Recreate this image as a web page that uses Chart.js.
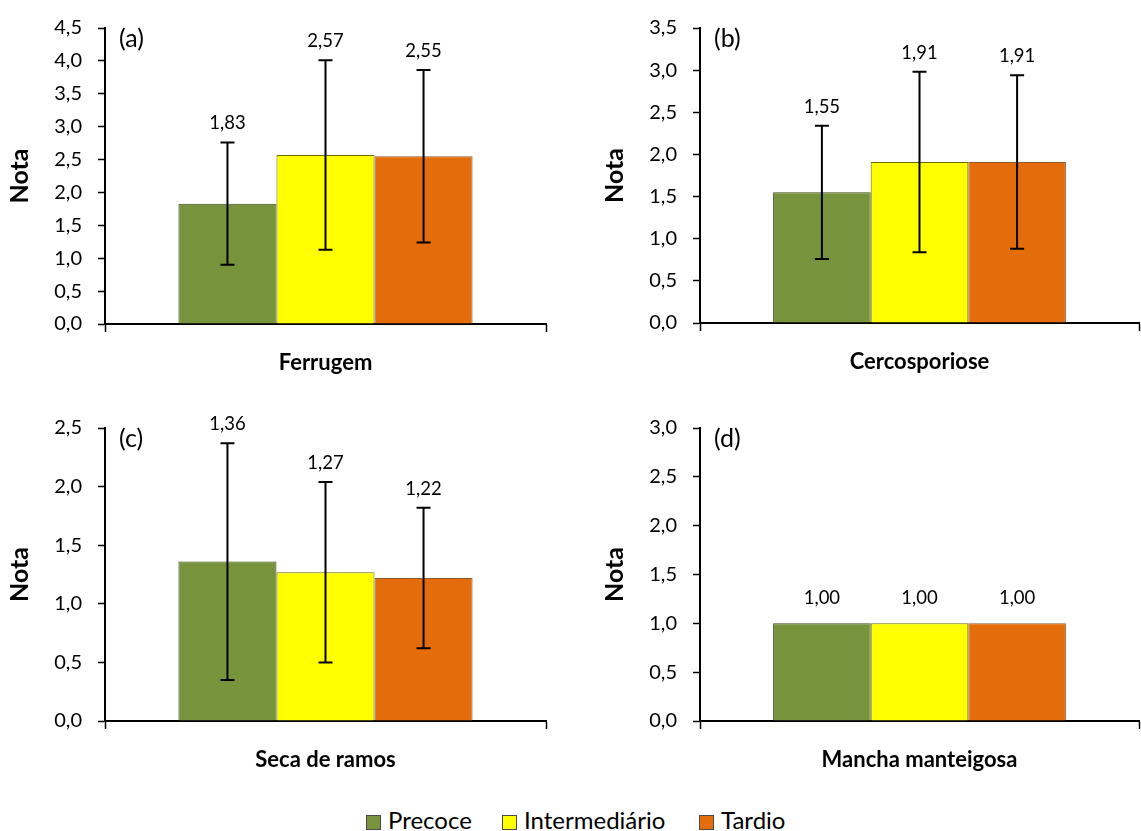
<!DOCTYPE html>
<html>
<head>
<meta charset="utf-8">
<script src="https://cdn.jsdelivr.net/npm/chart.js@4.4.1/dist/chart.umd.min.js"></script>
<style>
  html, body { margin: 0; padding: 0; background: #fff; }
  #wrap { position: relative; width: 1141px; height: 831px; overflow: hidden; }
  #wrap canvas { position: absolute; }
  #legend { position: absolute; left: 0; top: 806px; width: 1141px; height: 28px;
            font-family: Lato, "Open Sans", sans-serif; font-size: 24px; color: #000; line-height: 28px; }
  #legend .item { position: absolute; top: 0; display: flex; align-items: center; white-space: nowrap; }
  #legend .sw { width: 13px; height: 13px; border: 1px solid #4a4a4a; margin-right: 7px; margin-top: 4px; }
</style>
</head>
<body>
<div id="wrap">
  <canvas id="pa"></canvas>
  <canvas id="pb"></canvas>
  <canvas id="pc"></canvas>
  <canvas id="pd"></canvas>
  <div id="legend"></div>
</div>
<script>
// Maturation groups (series)
const seriesNames = ['Precoce', 'Intermediário', 'Tardio'];
const seriesColors = ['#77933C', '#FFFF00', '#E46C0A'];
const seriesBorders = ['#3B4A1E', '#6B6B00', '#8A5A30'];

// Diseases, one per panel
const diseases = ['Ferrugem', 'Cercosporiose', 'Seca de ramos', 'Mancha manteigosa'];
const panelTags = ['(a)', '(b)', '(c)', '(d)'];
const yMax = [4.5, 3.5, 2.5, 3.0];
const yStep = 0.5;

// Mean scores per disease
const precoce       = [1.83, 1.55, 1.36, 1.00];
const intermediario = [2.57, 1.91, 1.27, 1.00];
const tardio        = [2.55, 1.91, 1.22, 1.00];

// Standard deviations per disease
const sdPrecoce       = [0.93, 0.79, 1.01, 0];
const sdIntermediario = [1.44, 1.07, 0.77, 0];
const sdTardio        = [1.31, 1.03, 0.60, 0];

const means = [precoce, intermediario, tardio];
const sds = [sdPrecoce, sdIntermediario, sdTardio];

// Canvas placement and plot-area box of each panel
const panels = [
  { id: 'pa', left: 0,   top: 0,   width: 570, height: 390, area: { l: 105, t: 22, r: 546, b: 324 }, yTitleX: 20, labelGap: 19 },
  { id: 'pb', left: 570, top: 0,   width: 571, height: 390, area: { l: 130, t: 22, r: 569, b: 323 }, yTitleX: 45, labelGap: 19 },
  { id: 'pc', left: 0,   top: 400, width: 570, height: 380, area: { l: 105, t: 18, r: 546, b: 321 }, yTitleX: 20, labelGap: 19 },
  { id: 'pd', left: 570, top: 400, width: 571, height: 380, area: { l: 130, t: 19, r: 569, b: 321 }, yTitleX: 45, labelGap: 25 }
];
// Legend swatch positions
const legendX = [366, 502, 699];

const FONT = 'Lato, "Open Sans", sans-serif';
const comma = (v, d) => v.toFixed(d).replace('.', ',');

// Error bars, value labels and the panel tag
const overlayPlugin = {
  id: 'overlay',
  afterDatasetsDraw(chart, args, opts) {
    const { ctx, chartArea } = chart;
    const y = chart.scales.y;
    ctx.save();
    chart.data.datasets.forEach((ds, i) => {
      const meta = chart.getDatasetMeta(i);
      meta.data.forEach((bar, j) => {
        const v = ds.data[j];
        const e = ds.errors[j];
        const x = bar.x;
        const yTop = y.getPixelForValue(v + e);
        if (e > 0) {
          const yBot = y.getPixelForValue(v - e);
          ctx.strokeStyle = '#000';
          ctx.lineWidth = 2;
          ctx.beginPath();
          ctx.moveTo(x, yTop); ctx.lineTo(x, yBot);
          ctx.moveTo(x - 7, yTop); ctx.lineTo(x + 7, yTop);
          ctx.moveTo(x - 7, yBot); ctx.lineTo(x + 7, yBot);
          ctx.stroke();
        }
        ctx.fillStyle = '#000';
        ctx.font = '18.5px ' + FONT;
        ctx.textAlign = 'center';
        ctx.textBaseline = 'middle';
        ctx.fillText(comma(v, 2), x, yTop - opts.labelGap);
      });
    });
    ctx.font = '25px ' + FONT;
    ctx.textAlign = 'left';
    ctx.textBaseline = 'middle';
    ctx.fillStyle = '#000';
    ctx.fillText(opts.tag, chartArea.left + 14, chartArea.top + 11);
    ctx.restore();
  }
};

panels.forEach((p, k) => {
  const cv = document.getElementById(p.id);
  cv.width = p.width; cv.height = p.height;
  cv.style.left = p.left + 'px'; cv.style.top = p.top + 'px';
  cv.style.width = p.width + 'px'; cv.style.height = p.height + 'px';

  const yTitleFont = { family: FONT, size: 25, weight: 'bold', lineHeight: 1.2 };

  new Chart(cv, {
    type: 'bar',
    data: {
      labels: [diseases[k]],
      datasets: seriesNames.map((name, i) => ({
        label: name,
        data: [means[i][k]],
        errors: [sds[i][k]],
        backgroundColor: seriesColors[i],
        borderColor: seriesBorders[i],
        borderWidth: 1,
        categoryPercentage: 0.667,
        barPercentage: 1
      }))
    },
    options: {
      responsive: false,
      animation: false,
      devicePixelRatio: 1,
      layout: { padding: { left: 0, top: p.area.t, right: p.width - p.area.r, bottom: 0 } },
      plugins: {
        legend: { display: false },
        tooltip: { enabled: false },
        overlay: { tag: panelTags[k], labelGap: p.labelGap }
      },
      scales: {
        x: {
          grid: { display: true, drawOnChartArea: false, drawTicks: true, tickLength: 8, tickWidth: 1.5, tickColor: '#000', offset: true },
          border: { display: true, color: '#000', width: 2 },
          ticks: { color: '#000', padding: 18, font: { family: FONT, size: 22, weight: 'bold', lineHeight: 1.2 } },
          afterFit: (s) => { s.height = p.height - p.area.b; }
        },
        y: {
          min: 0, max: yMax[k],
          grid: { display: true, drawOnChartArea: false, drawTicks: true, tickLength: 7, tickWidth: 1.5, tickColor: '#000' },
          border: { display: true, color: '#000', width: 2 },
          ticks: { stepSize: yStep, color: '#000', padding: 16, font: { family: FONT, size: 20 },
                   callback: (v) => comma(v, 1) },
          title: { display: true, text: 'Nota', color: '#000', font: yTitleFont,
                   padding: { top: p.yTitleX - 15, bottom: 0 } },
          afterFit: (s) => { s.width = p.area.l; }
        }
      }
    },
    plugins: [overlayPlugin]
  });
});

// Legend
const legend = document.getElementById('legend');
seriesNames.forEach((name, i) => {
  const item = document.createElement('div');
  item.className = 'item';
  item.style.left = legendX[i] + 'px';
  const sw = document.createElement('span');
  sw.className = 'sw';
  sw.style.background = seriesColors[i];
  const txt = document.createElement('span');
  txt.textContent = name;
  item.appendChild(sw); item.appendChild(txt);
  legend.appendChild(item);
});
</script>
</body>
</html>
